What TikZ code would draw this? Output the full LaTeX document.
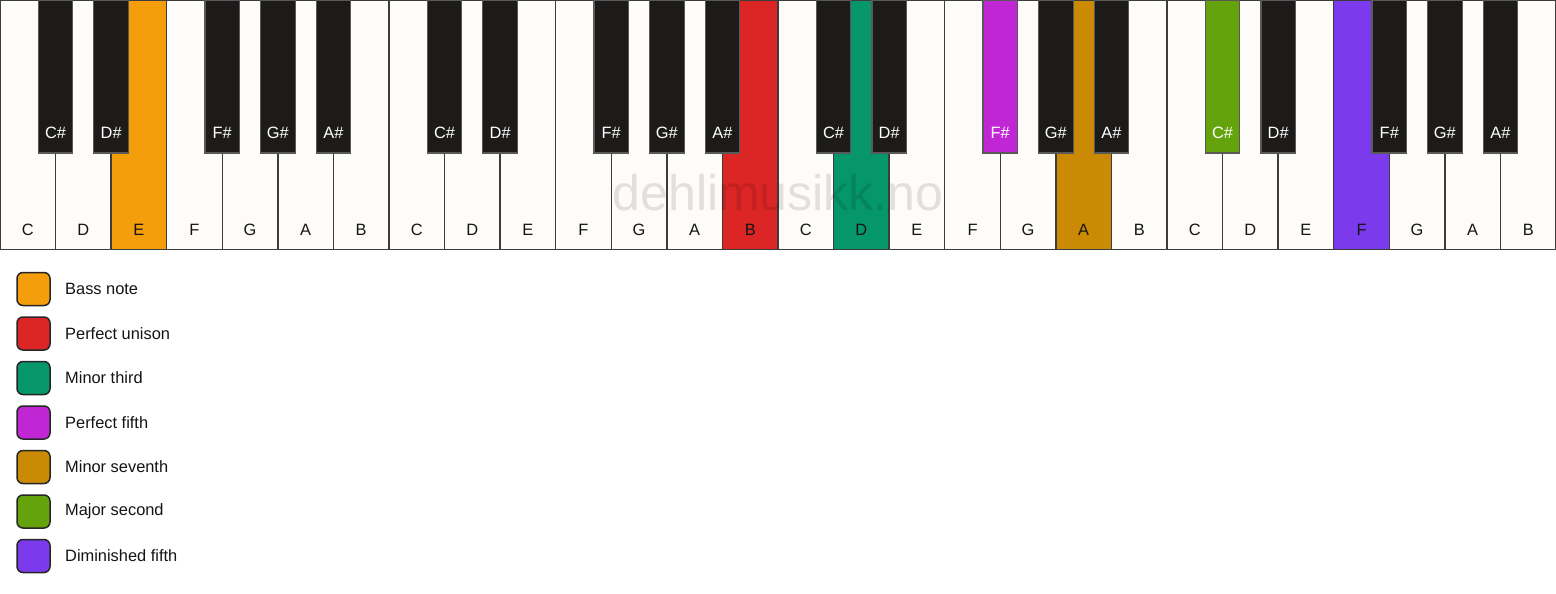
\documentclass[tikz,border=0pt]{standalone}
\usepackage{fontspec}
\setmainfont{Liberation Sans}
\definecolor{keywhite}{HTML}{FDFCF9}
\definecolor{keyblack}{HTML}{1C1B19}
\definecolor{keyline}{HTML}{3C3C3C}
\definecolor{cbass}{HTML}{F59E0B}
\definecolor{cunison}{HTML}{DC2626}
\definecolor{cminthird}{HTML}{059669}
\definecolor{cfifth}{HTML}{C026D3}
\definecolor{cminsev}{HTML}{CA8A04}
\definecolor{cmajsec}{HTML}{65A30D}
\definecolor{cdimfifth}{HTML}{7C3AED}
\begin{document}
\begin{tikzpicture}[x=1pt,y=-1pt,
  wkey/.style={draw=keyline, line width=1.5pt, minimum width=55.5714pt, minimum height=248.5pt, inner sep=0pt, outer sep=0pt},
  bkey/.style={draw=keyline!85, line width=1.2pt, minimum width=34.5pt, minimum height=153pt, inner sep=0pt, outer sep=0pt},
  wlab/.style={font=\fontsize{16.4}{19}\selectfont, text=black!92, inner sep=0pt},
  blab/.style={font=\fontsize{16.4}{19}\selectfont, text=white, inner sep=0pt},
  legbox/.style={draw=black!85, line width=1.5pt, rounded corners=6pt, minimum width=33pt, minimum height=33pt, inner sep=0pt},
  legtext/.style={font=\fontsize{16.4}{19}\selectfont, text=black!92, anchor=west, inner sep=0pt},
  mark text/.style={font=\fontsize{50}{60}\selectfont, text=black, text opacity=0.11, inner sep=0pt}]
\useasboundingbox (0,0) rectangle (1556,594);
\fill[white] (0,0) rectangle (1556,594);
% white keys
\foreach \i/\n/\c in {0/C/keywhite,1/D/keywhite,2/E/cbass,3/F/keywhite,4/G/keywhite,5/A/keywhite,6/B/keywhite,
  7/C/keywhite,8/D/keywhite,9/E/keywhite,10/F/keywhite,11/G/keywhite,12/A/keywhite,13/B/cunison,
  14/C/keywhite,15/D/cminthird,16/E/keywhite,17/F/keywhite,18/G/keywhite,19/A/cminsev,20/B/keywhite,
  21/C/keywhite,22/D/keywhite,23/E/keywhite,24/F/cdimfifth,25/G/keywhite,26/A/keywhite,27/B/keywhite}{
  \node[wkey, fill=\c] (w\i) at ({\i*55.5714+27.7857},125) {};
  \node[wlab] (wl\i) at ({\i*55.5714+27.7857},230) {\n};
}
% black keys
\foreach \b/\n/\c in {1/C\#/keyblack,2/D\#/keyblack,4/F\#/keyblack,5/G\#/keyblack,6/A\#/keyblack,
  8/C\#/keyblack,9/D\#/keyblack,11/F\#/keyblack,12/G\#/keyblack,13/A\#/keyblack,
  15/C\#/keyblack,16/D\#/keyblack,18/F\#/cfifth,19/G\#/keyblack,20/A\#/keyblack,
  22/C\#/cmajsec,23/D\#/keyblack,25/F\#/keyblack,26/G\#/keyblack,27/A\#/keyblack}{
  \node[bkey, fill=\c] (b\b) at ({\b*55.5714},76.5) {};
  \node[blab] (bl\b) at ({\b*55.5714},133) {\n};
}
% watermark
\node[mark text] (wm) at (778,193) {dehlimusikk.no};
% legend
\foreach \k/\c/\t in {0/cbass/Bass note,1/cunison/Perfect unison,2/cminthird/Minor third,
  3/cfifth/Perfect fifth,4/cminsev/Minor seventh,5/cmajsec/Major second,6/cdimfifth/Diminished fifth}{
  \node[legbox, fill=\c] (lb\k) at (33.5,{289+\k*44.5}) {};
  \node[legtext] (lt\k) at (65,{289+\k*44.5}) {\t};
}
\end{tikzpicture}
\end{document}
